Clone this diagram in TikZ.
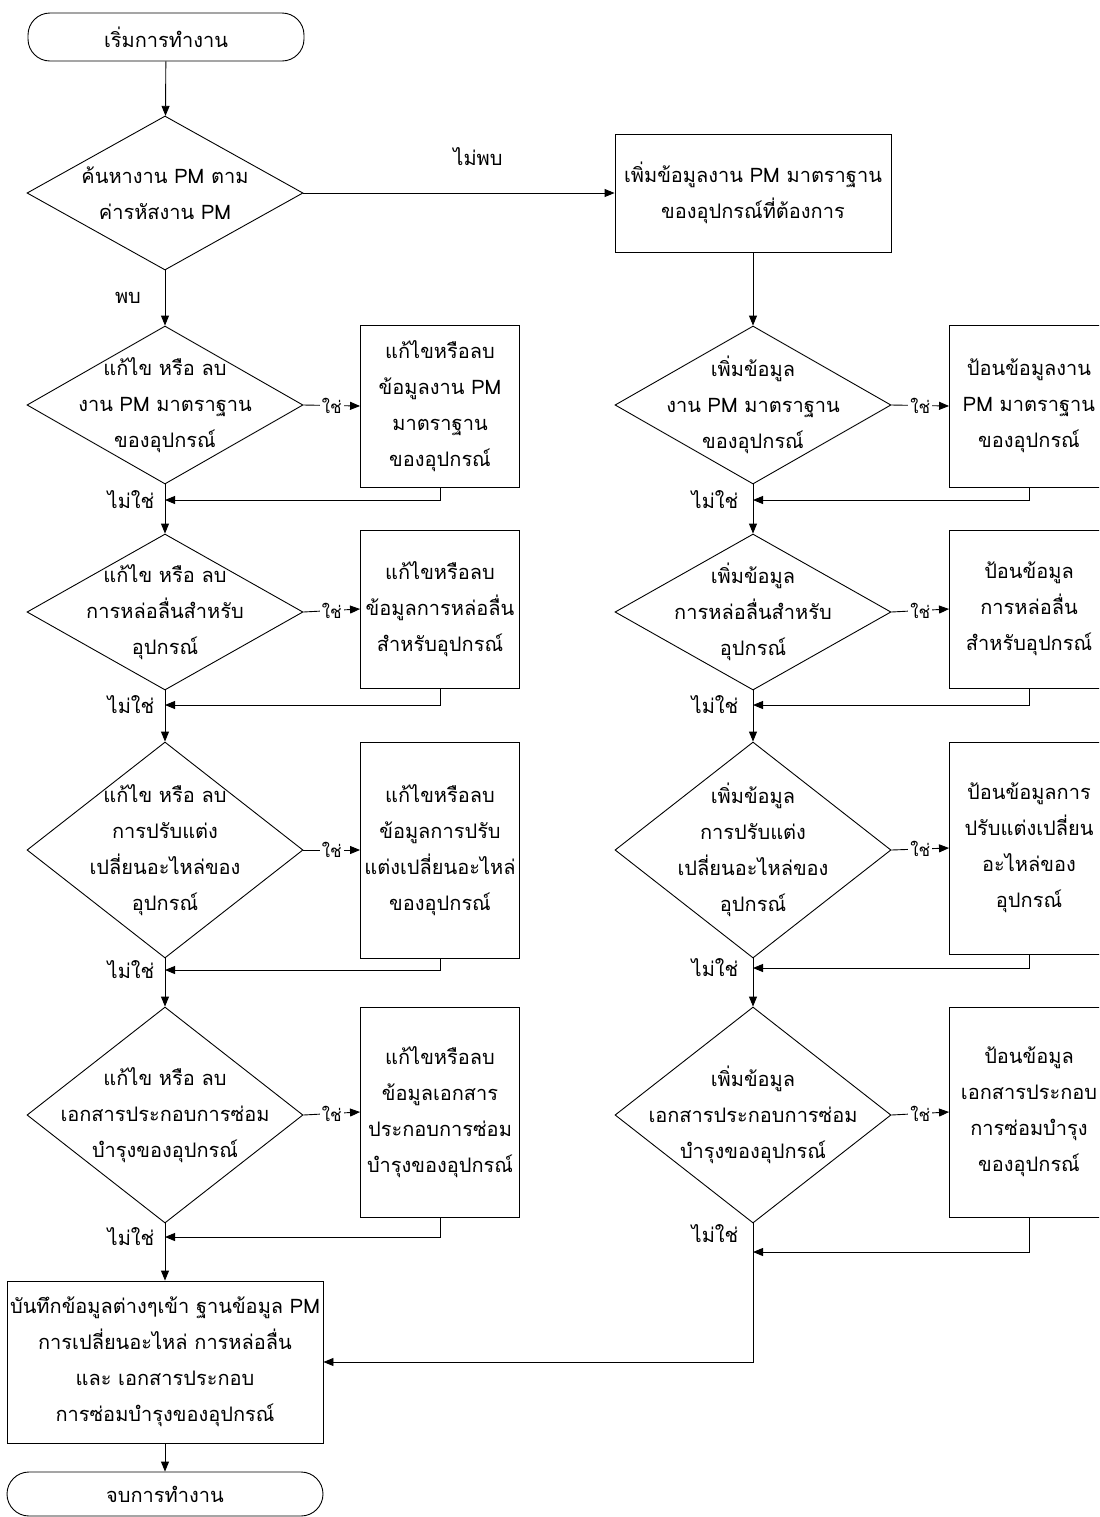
\documentclass[tikz,border=0pt]{standalone}
\usepackage{fontspec}
\setmainfont{Loma}[Script=Thai]
\usetikzlibrary{shapes.geometric,arrows.meta}
\begin{document}
\begin{tikzpicture}[x=0.5pt,y=-0.5pt,
  font=\fontsize{10}{18}\selectfont,
  line width=0.45pt,
  arr/.style={-{Triangle[length=5pt,width=4pt]}},
  term/.style={draw,rectangle,rounded corners=11pt,minimum width=138pt,minimum height=24pt,inner sep=0pt},
  dec/.style={draw,diamond,minimum width=138pt,minimum height=#1,inner sep=0pt},
  dec/.default=79pt,
  box/.style={draw,rectangle,align=center,inner sep=0pt,minimum width=79.5pt,minimum height=#1},
  box/.default=81pt,
  lbl/.style={inner sep=1pt},
  yes/.style={midway,fill=white,inner sep=1pt,font=\fontsize{8.5}{10}\selectfont}
]
\clip (0,0) rectangle (1099,1517);
\fill[white] (0,0) rectangle (1099,1517);

% ---------- left column ----------
\node[term] (start) at (166,37) {เริ่มการทำงาน};
\node[dec=77pt,label={[align=center]center:ค้นหางาน PM ตาม\\ค่ารหัสงาน PM}] (d0) at (165,193) {};
\node[draw,rectangle,align=center,inner sep=0pt,minimum width=138pt,minimum height=59pt] (b0) at (753,193) {เพิ่มข้อมูลงาน PM มาตราฐาน\\ของอุปกรณ์ที่ต้องการ};

\node[dec,label={[align=center]center:แก้ไข หรือ ลบ\\งาน PM มาตราฐาน\\ของอุปกรณ์}] (d1) at (165,405) {};
\node[box] (r1) at (440,406) {แก้ไขหรือลบ\\ข้อมูลงาน PM\\มาตราฐาน\\ของอุปกรณ์};
\coordinate (j1) at (165,500);

\node[dec=78pt,label={[align=center]center:แก้ไข หรือ ลบ\\การหล่อลื่นสำหรับ\\อุปกรณ์}] (d2) at (165,612) {};
\node[box=79pt] (r2) at (440,609) {แก้ไขหรือลบ\\ข้อมูลการหล่อลื่น\\สำหรับอุปกรณ์};
\coordinate (j2) at (165,705);

\node[dec=108pt,label={[align=center]center:แก้ไข หรือ ลบ\\การปรับแต่ง\\เปลี่ยนอะไหล่ของ\\อุปกรณ์}] (d3) at (165,850) {};
\node[box=108pt] (r3) at (440,850) {แก้ไขหรือลบ\\ข้อมูลการปรับ\\แต่งเปลี่ยนอะไหล่\\ของอุปกรณ์};
\coordinate (j3) at (165,970);

\node[dec=108pt,label={[align=center]center:แก้ไข หรือ ลบ\\เอกสารประกอบการซ่อม\\บำรุงของอุปกรณ์}] (d4) at (165,1115) {};
\node[box=105pt] (r4) at (440,1112) {แก้ไขหรือลบ\\ข้อมูลเอกสาร\\ประกอบการซ่อม\\บำรุงของอุปกรณ์};
\coordinate (j4) at (165,1237);

\node[draw,rectangle,align=center,inner sep=0pt,minimum width=158pt,minimum height=81pt] (fin) at (165,1362) {บันทึกข้อมูลต่างๆเข้า ฐานข้อมูล PM\\การเปลี่ยนอะไหล่ การหล่อลื่น\\และ เอกสารประกอบ\\การซ่อมบำรุงของอุปกรณ์};
\node[term,minimum width=158pt,minimum height=22pt] (end) at (165,1494) {จบการทำงาน};

% ---------- right column ----------
\node[dec,label={[align=center]center:เพิ่มข้อมูล\\งาน PM มาตราฐาน\\ของอุปกรณ์}] (e1) at (753,405) {};
\node[box] (s1) at (1029,406) {ป้อนข้อมูลงาน\\PM มาตราฐาน\\ของอุปกรณ์};
\coordinate (k1) at (753,500);

\node[dec=78pt,label={[align=center]center:เพิ่มข้อมูล\\การหล่อลื่นสำหรับ\\อุปกรณ์}] (e2) at (753,612) {};
\node[box=79pt] (s2) at (1029,609) {ป้อนข้อมูล\\การหล่อลื่น\\สำหรับอุปกรณ์};
\coordinate (k2) at (753,705);

\node[dec=108pt,label={[align=center]center:เพิ่มข้อมูล\\การปรับแต่ง\\เปลี่ยนอะไหล่ของ\\อุปกรณ์}] (e3) at (753,850) {};
\node[box=106pt] (s3) at (1029,848) {ป้อนข้อมูลการ\\ปรับแต่งเปลี่ยน\\อะไหล่ของ\\อุปกรณ์};
\coordinate (k3) at (753,968);

\node[dec=108pt,label={[align=center]center:เพิ่มข้อมูล\\เอกสารประกอบการซ่อม\\บำรุงของอุปกรณ์}] (e4) at (753,1115) {};
\node[box=105pt] (s4) at (1029,1112) {ป้อนข้อมูล\\เอกสารประกอบ\\การซ่อมบำรุง\\ของอุปกรณ์};
\coordinate (k4) at (753,1252);

% ---------- connectors ----------
\draw[arr] (start) -- (d0);
\draw[arr] (d0.east) -- (b0.west);
\node[lbl] (lnf) at (478,157) {ไม่พบ};
\draw[arr] (d0.south) -- (d1.north);
\node[lbl] (lf) at (128,298) {พบ};
\draw[arr] (b0.south) -- (e1.north);

\draw[arr] (d1.east) -- node[yes] {ใช่} (r1.west);
\draw[arr] (r1.south) |- (j1);
\draw[arr] (d1.south) -- (d2.north);
\node[lbl] (n1) at (131,500) {ไม่ใช่};

\draw[arr] (d2.east) -- node[yes] {ใช่} (r2.west);
\draw[arr] (r2.south) |- (j2);
\draw[arr] (d2.south) -- (d3.north);
\node[lbl] (n2) at (131,705) {ไม่ใช่};

\draw[arr] (d3.east) -- node[yes] {ใช่} (r3.west);
\draw[arr] (r3.south) |- (j3);
\draw[arr] (d3.south) -- (d4.north);
\node[lbl] (n3) at (131,970) {ไม่ใช่};

\draw[arr] (d4.east) -- node[yes] {ใช่} (r4.west);
\draw[arr] (r4.south) |- (j4);
\draw[arr] (d4.south) -- (fin.north);
\node[lbl] (n4) at (131,1237) {ไม่ใช่};

\draw[arr] (fin.south) -- (end.north);

\draw[arr] (e1.east) -- node[yes] {ใช่} (s1.west);
\draw[arr] (s1.south) |- (k1);
\draw[arr] (e1.south) -- (e2.north);
\node[lbl] (m1) at (715,500) {ไม่ใช่};

\draw[arr] (e2.east) -- node[yes] {ใช่} (s2.west);
\draw[arr] (s2.south) |- (k2);
\draw[arr] (e2.south) -- (e3.north);
\node[lbl] (m2) at (715,705) {ไม่ใช่};

\draw[arr] (e3.east) -- node[yes] {ใช่} (s3.west);
\draw[arr] (s3.south) |- (k3);
\draw[arr] (e3.south) -- (e4.north);
\node[lbl] (m3) at (715,968) {ไม่ใช่};

\draw[arr] (e4.east) -- node[yes] {ใช่} (s4.west);
\draw[arr] (s4.south) |- (k4);
\draw[arr] (e4.south) |- (fin.east);
\node[lbl] (m4) at (715,1234) {ไม่ใช่};
\end{tikzpicture}
\end{document}
